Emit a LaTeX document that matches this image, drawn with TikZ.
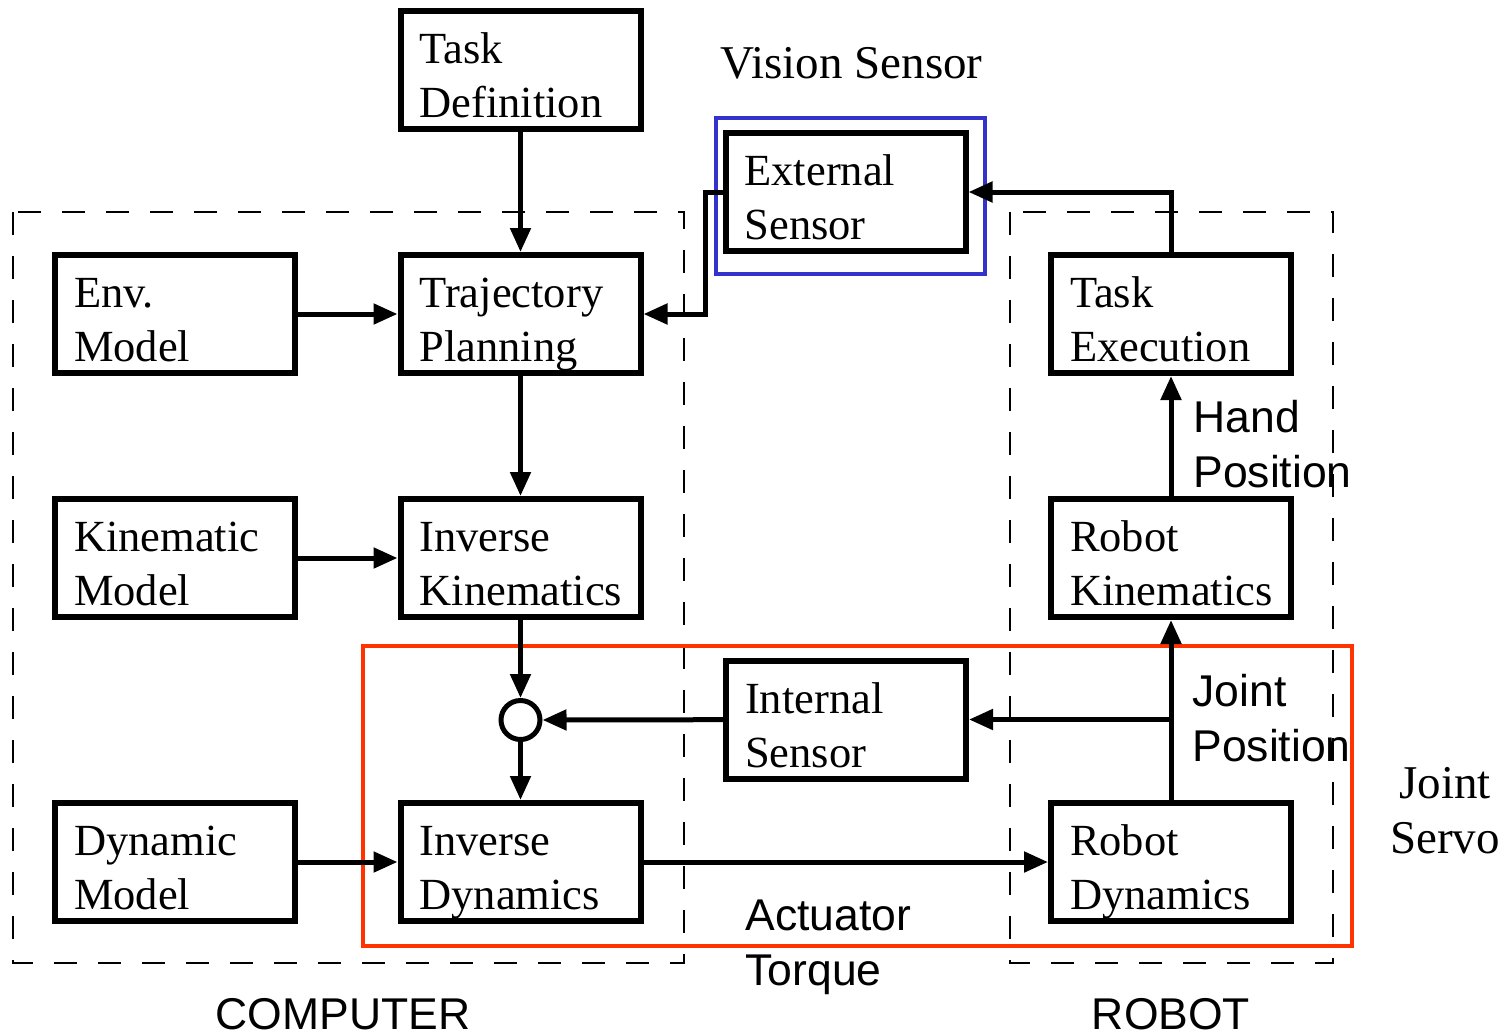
\documentclass[tikz,border=0pt]{standalone}
\usepackage{fontspec}
\setmainfont{Liberation Serif}
\setsansfont{Liberation Sans}
\usetikzlibrary{arrows.meta}
\definecolor{visionblue}{RGB}{51,51,204}
\definecolor{servored}{RGB}{255,51,0}
\tikzset{
  blk/.style={draw, line width=3pt, rectangle, minimum width=120pt, minimum height=59pt,
    inner xsep=9.5pt, inner ysep=0pt, text width=101pt, align=left,
    text height=20pt, text depth=26.5pt,
    font=\fontsize{22.25pt}{27pt}\selectfont},
  junction/.style={draw, circle, line width=2.5pt, minimum size=19.5pt, inner sep=0pt},
  arr/.style={line width=2.5pt, -{Triangle[length=12pt,width=10pt]}},
  group/.style={line width=1pt, dash pattern=on 11.5pt off 10.5pt},
  sig/.style={inner sep=0pt, text width=80pt, align=left,
    font=\sffamily\fontsize{22.25pt}{27.5pt}\selectfont},
  side/.style={inner sep=0pt, font=\sffamily\fontsize{22.25pt}{27pt}\selectfont},
  title/.style={inner sep=0pt, font=\fontsize{23.5pt}{27.5pt}\selectfont}
}
\begin{document}
\begin{tikzpicture}[x=0.5pt, y=-0.5pt]
\useasboundingbox (0,0) rectangle (1508,1034);

% computer and robot groups
\draw[group] (13,212) rectangle (684,963);
\draw[group] (1010,212) rectangle (1333,963);

% blocks
\node[blk] (td) at (520.5,70) {Task\\Definition};
\node[blk] (env) at (175,314) {Env.\\Model};
\node[blk] (tp) at (520.5,314) {Trajectory\\Planning};
\node[blk] (km) at (175,558) {Kinematic\\Model};
\node[blk] (ik) at (520.5,558) {Inverse\\Kinematics};
\node[blk] (dm) at (175,862) {Dynamic\\Model};
\node[blk] (id) at (520.5,862) {Inverse\\Dynamics};
\node[blk] (es) at (845.5,192) {External\\Sensor};
\node[blk] (is) at (846,719.5) {Internal\\Sensor};
\node[blk] (te) at (1171,314) {Task\\Execution};
\node[blk] (rk) at (1171,558) {Robot\\Kinematics};
\node[blk] (rd) at (1171,862) {Robot\\Dynamics};
\node[junction] (sum) at (520.5,720) {};

% vision sensor and joint servo frames
\draw[visionblue, line width=2.25pt] (716,118) rectangle (985,274);
\draw[servored, line width=2.25pt] (363,646) rectangle (1352,946);

% signal flow
\draw[arr] (td) -- (tp);
\draw[arr] (env) -- (tp);
\draw[arr] (tp) -- (ik);
\draw[arr] (km) -- (ik);
\draw[arr] (ik) -- (sum);
\draw[arr] (sum) -- (id);
\draw[arr] (dm) -- (id);
\draw[arr] (id) -- (rd);
\draw[arr] (is) -- (sum);
\draw[arr] (rd) -- (rk);
\draw[arr] (rk) -- (te);
\draw[arr] (rd.north |- is.east) -- (is.east);
\draw[arr] (te.north) |- (es.east);
\coordinate (esturn) at ([xshift=-8.5pt]es.west);
\draw[arr] (es.west) -- (esturn) |- (tp.east);

% labels
\node[title, anchor=base west] (vs) at (720,78) {Vision Sensor};
\node[title, anchor=base, align=center, text width=60pt] (js) at (1445,798) {Joint\\Servo};
\node[sig, anchor=base west] (hp) at (1193,432) {Hand\\Position};
\node[sig, anchor=base west] (jp) at (1192,706) {Joint\\Position};
\node[sig, anchor=base west] (at) at (745,930) {Actuator\\Torque};
\node[side, anchor=base] (comp) at (343,1029) {COMPUTER};
\node[side, anchor=base] (rob) at (1171,1029) {ROBOT};
\end{tikzpicture}
\end{document}
